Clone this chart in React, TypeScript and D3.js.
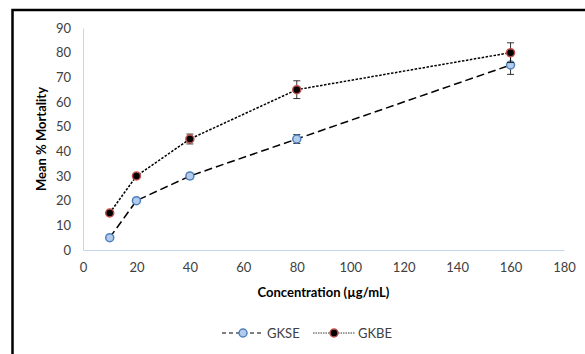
import { useEffect, useRef } from 'react';
import * as d3 from 'd3';

const concentrations = [10, 20, 40, 80, 160];
const gkseMean = [5, 20, 30, 45, 75];
const gkseErr = [0.8, 1, 1.2, 1.8, 3.8];
const gkbeMean = [15, 30, 45, 65, 80];
const gkbeErr = [0.8, 1, 2, 3.6, 4];
const xTicks = [0, 20, 40, 60, 80, 100, 120, 140, 160, 180];
const yTicks = [0, 10, 20, 30, 40, 50, 60, 70, 80, 90];

const App: React.FC = () => {
    const chartRef = useRef<SVGSVGElement>(null);

    useEffect(() => {
        if (chartRef.current) createChart();
    }, []);

    const createChart = () => {
        d3.select(chartRef.current).selectAll('*').remove();
        const width = 585;
        const height = 354;
        const margin = { top: 28, right: 21, bottom: 104, left: 83 };
        const font = 'Lato, "Open Sans", sans-serif';
        const fs = '13px';

        const svg = d3.select(chartRef.current).attr('width', width).attr('height', height);

        const xScale = d3.scaleLinear().domain([0, 180]).range([margin.left, width - margin.right]);
        const yScale = d3.scaleLinear().domain([0, 90]).range([height - margin.bottom, margin.top]);

        // Frame
        svg.append('rect')
            .attr('x', 12.5).attr('y', 10)
            .attr('width', 600).attr('height', 400)
            .attr('fill', 'white')
            .attr('stroke', 'black')
            .attr('stroke-width', 2.5);

        // Axes
        const xAxis = d3.axisBottom(xScale).tickValues(xTicks).tickSize(0).tickPadding(13);
        const gx = svg.append('g')
            .attr('transform', `translate(0, ${yScale(0)})`)
            .call(xAxis);
        gx.select('.domain').attr('stroke', '#c6d6ec');
        gx.selectAll('text').style('font-family', font).style('font-size', fs).attr('fill', '#404040');

        const yAxis = d3.axisLeft(yScale).tickValues(yTicks).tickSize(0).tickPadding(12);
        const gy = svg.append('g')
            .attr('transform', `translate(${margin.left}, 0)`)
            .call(yAxis);
        gy.select('.domain').attr('stroke', '#c6d6ec');
        gy.selectAll('text').style('font-family', font).style('font-size', fs).attr('fill', '#404040');

        // Axis titles
        svg.append('text')
            .attr('x', (xScale(0) + xScale(180)) / 2)
            .attr('y', 297)
            .attr('text-anchor', 'middle')
            .style('font-family', font).style('font-size', fs).style('font-weight', 'bold')
            .text('Concentration (µg/mL)');
        svg.append('text')
            .attr('transform', `translate(46, ${(yScale(0) + yScale(90)) / 2}) rotate(-90)`)
            .attr('text-anchor', 'middle')
            .style('font-family', font).style('font-size', fs).style('font-weight', 'bold')
            .text('Mean % Mortality');

        const series = [
            { name: 'GKSE', mean: gkseMean, err: gkseErr, dash: '8,4', fill: '#b4cbed', stroke: '#4f81bd' },
            { name: 'GKBE', mean: gkbeMean, err: gkbeErr, dash: '2.5,1.5', fill: '#000000', stroke: '#c0504d' },
        ];

        const line = d3.line<number>()
            .x((_, i) => xScale(concentrations[i]))
            .y((d) => yScale(d));

        series.forEach((s) => {
            svg.append('path')
                .datum(s.mean)
                .attr('d', line)
                .attr('fill', 'none')
                .attr('stroke', 'black')
                .attr('stroke-width', 1.5)
                .attr('stroke-dasharray', s.dash);

            const eb = svg.append('g');
            s.mean.forEach((m, i) => {
                const x = xScale(concentrations[i]);
                const y1 = yScale(m + s.err[i]);
                const y2 = yScale(m - s.err[i]);
                eb.append('line').attr('x1', x).attr('x2', x).attr('y1', y1).attr('y2', y2)
                    .attr('stroke', 'black').attr('stroke-width', 0.8);
                [y1, y2].forEach((y) => {
                    eb.append('line').attr('x1', x - 3.5).attr('x2', x + 3.5).attr('y1', y).attr('y2', y)
                        .attr('stroke', 'black').attr('stroke-width', 0.8);
                });
            });

            svg.append('g')
                .selectAll('circle')
                .data(s.mean)
                .enter()
                .append('circle')
                .attr('cx', (_, i) => xScale(concentrations[i]))
                .attr('cy', (d) => yScale(d))
                .attr('r', 4)
                .attr('fill', s.fill)
                .attr('stroke', s.stroke)
                .attr('stroke-width', 1.5);
        });

        // Legend
        const legendY = 333;
        const legendX = [222, 313];
        series.forEach((s, i) => {
            const x0 = legendX[i];
            svg.append('line')
                .attr('x1', x0).attr('x2', x0 + 42).attr('y1', legendY).attr('y2', legendY)
                .attr('stroke', 'black').attr('stroke-width', i === 0 ? 1.2 : 0.8)
                .attr('stroke-dasharray', i === 0 ? '4,3' : '1.5,1');
            svg.append('circle')
                .attr('cx', x0 + 21).attr('cy', legendY).attr('r', 4)
                .attr('fill', s.fill).attr('stroke', s.stroke).attr('stroke-width', 1.5);
            svg.append('text')
                .attr('x', x0 + 45).attr('y', legendY + 4.5)
                .style('font-family', font).style('font-size', fs).attr('fill', '#404040')
                .text(s.name);
        });
    };

    return <svg ref={chartRef} style={{ position: 'absolute', left: 0, top: 0 }} />;
};

export default App;
